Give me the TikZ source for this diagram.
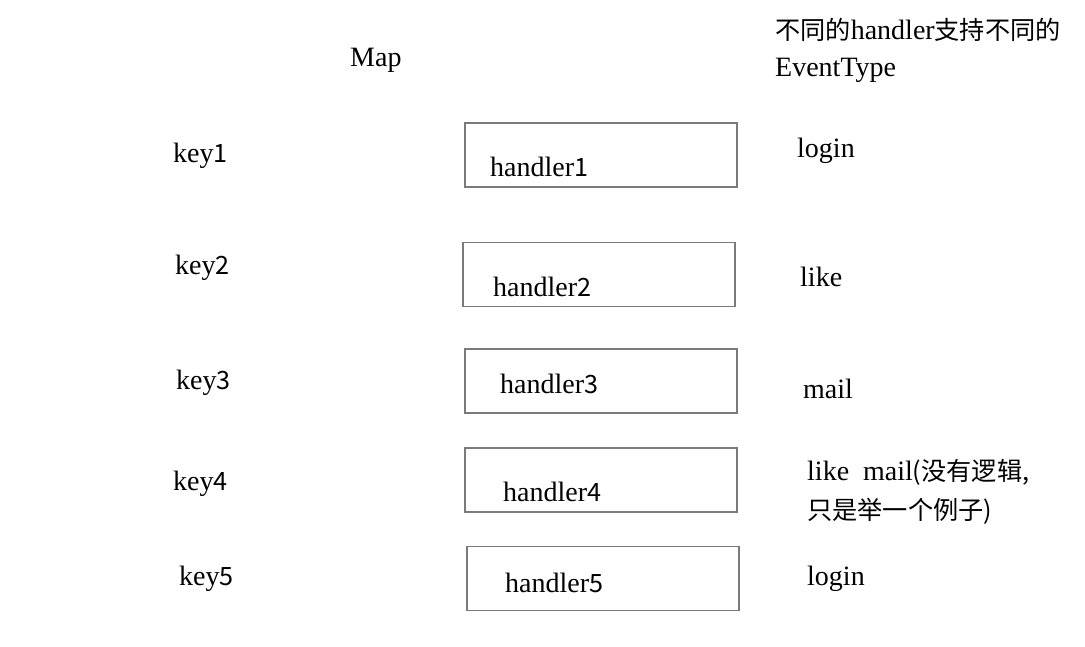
\documentclass[tikz,border=0pt]{standalone}
\usepackage{fontspec}
\setmainfont{Liberation Serif}
\newfontfamily\cjk[Scale=0.9]{Noto Sans CJK SC}
\begin{document}
\begin{tikzpicture}[x=1pt,y=-1pt,
  lbl/.style={anchor=base west,inner sep=0pt,font=\fontsize{28}{34}\selectfont},
  hbox/.style={draw=black!52,line width=1.1pt,minimum width=272pt,minimum height=64pt,inner sep=0pt}]
\useasboundingbox[fill=white] (0,0) rectangle (1085,647);
% header
\node[lbl] (map) at (350,67) {Map};
\node[lbl] (hd1) at (775,40) {{\cjk 不同的}handler{\cjk 支持不同的}};
\node[lbl] (hd2) at (775,77) {EventType};
% keys
\node[lbl] (k1) at (173,163) {key{\cjk 1}};
\node[lbl] (k2) at (175,275) {key{\cjk 2}};
\node[lbl] (k3) at (176,389) {key{\cjk 3}};
\node[lbl] (k4) at (173,490) {key{\cjk 4}};
\node[lbl] (k5) at (179,585) {key{\cjk 5}};
% boxes
\node[hbox] (b1) at (601,155) {};
\node[hbox] (b2) at (599,274.5) {};
\node[hbox] (b3) at (601,381) {};
\node[hbox] (b4) at (601,480) {};
\node[hbox] (b5) at (603,578.5) {};
\node[lbl] (t1) at (490,177) {handler{\cjk 1}};
\node[lbl] (t2) at (493,297) {handler{\cjk 2}};
\node[lbl] (t3) at (500,393) {handler{\cjk 3}};
\node[lbl] (t4) at (503,501) {handler{\cjk 4}};
\node[lbl] (t5) at (505,592) {handler{\cjk 5}};
% event types
\node[lbl] (e1) at (797,158) {login};
\node[lbl] (e2) at (800,287) {like};
\node[lbl] (e3) at (803,398) {mail};
\node[lbl] (e4a) at (807,480) {like\ \ mail{\cjk (没有逻辑,}};
\node[lbl] (e4b) at (807,519) {{\cjk 只是举一个例子)}};
\node[lbl] (e5) at (807,585) {login};
\end{tikzpicture}
\end{document}
